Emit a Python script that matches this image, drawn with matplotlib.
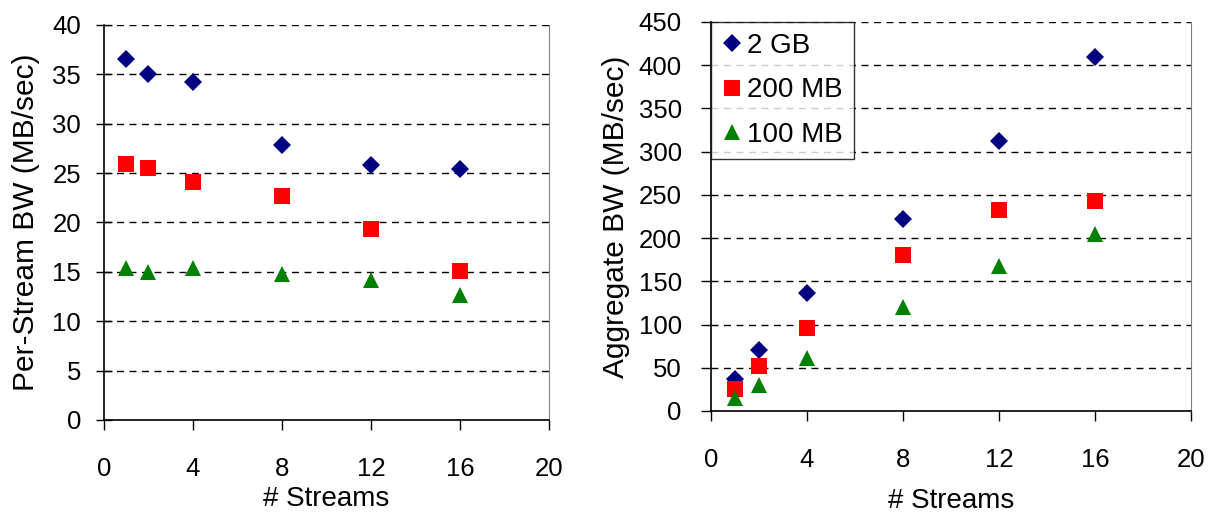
import numpy as np
import matplotlib
matplotlib.use('Agg')
import matplotlib.pyplot as plt

plt.rcParams['font.family'] = ['Liberation Sans', 'DejaVu Sans']

# data
streams = [1, 2, 4, 8, 12, 16]
labels = ['2 GB', '200 MB', '100 MB']

per_stream_2gb = [36.6, 35.0, 34.2, 27.8, 25.8, 25.4]
per_stream_200mb = [25.9, 25.5, 24.1, 22.7, 19.3, 15.1]
per_stream_100mb = [15.4, 15.0, 15.4, 14.8, 14.2, 12.7]

aggregate_2gb = [37, 70, 136, 222, 312, 409]
aggregate_200mb = [26, 52, 96, 181, 232, 243]
aggregate_100mb = [15, 30, 61, 120, 168, 205]

colors = ['#000080', '#ff0000', '#008000']
markers = ['D', 's', '^']
sizes = [9.5, 11, 12]

fig = plt.figure(figsize=(12.12, 5.12), dpi=100)
ax1 = fig.add_axes([0.0858, 0.1797, 0.3672, 0.7715])
ax2 = fig.add_axes([0.5866, 0.1973, 0.3961, 0.7598])

def style(ax, ymax, ystep, ylabel, ydir, ypad, xlabpad, ylabpad):
	ax.set_xlim(0, 20)
	ax.set_ylim(0, ymax)
	ax.set_xticks(np.arange(0, 21, 4))
	ax.set_yticks(np.arange(0, ymax + 1, ystep))
	ax.yaxis.grid(True, linestyle=(0, (5, 4)), color='black', linewidth=1)
	ax.set_axisbelow(True)
	ax.spines['top'].set_visible(False)
	ax.spines['right'].set_color('#808080')
	ax.spines['left'].set_linewidth(1.2)
	ax.spines['bottom'].set_linewidth(1.2)
	if ydir == 'inout':
		ax.tick_params(axis='y', direction='inout', length=11, width=1, labelsize=18.5, pad=ypad)
	else:
		ax.tick_params(axis='y', direction='out', length=7, width=1, labelsize=18.5, pad=ypad)
	ax.tick_params(axis='x', direction='out', length=7, width=1, labelsize=18.5, pad=20)
	ax.set_xlabel('# Streams', fontsize=20, labelpad=xlabpad)
	ax.set_ylabel(ylabel, fontsize=21.5, labelpad=ylabpad)

series1 = [per_stream_2gb, per_stream_200mb, per_stream_100mb]
series2 = [aggregate_2gb, aggregate_200mb, aggregate_100mb]

for i in range(3):
	ax1.plot(streams, series1[i], linestyle='none', marker=markers[i], markersize=sizes[i],
		color=colors[i], markeredgewidth=0, clip_on=False)
	ax2.plot(streams, series2[i], linestyle='none', marker=markers[i], markersize=sizes[i],
		color=colors[i], markeredgewidth=0, label=labels[i], clip_on=False)

style(ax1, 40, 5, 'Per-Stream BW (MB/sec)', 'inout', 11, 3, 9)
style(ax2, 450, 50, 'Aggregate BW (MB/sec)', 'out', 14, 11, 6)

leg = ax2.legend(loc='upper left', bbox_to_anchor=(0, 1), fontsize=20, frameon=True,
	fancybox=False, edgecolor='black', borderaxespad=0, handletextpad=0.15,
	handlelength=0.75, labelspacing=0.66, borderpad=0.4)
leg.get_frame().set_linewidth(1)

fig.savefig('out.png', dpi=100)
